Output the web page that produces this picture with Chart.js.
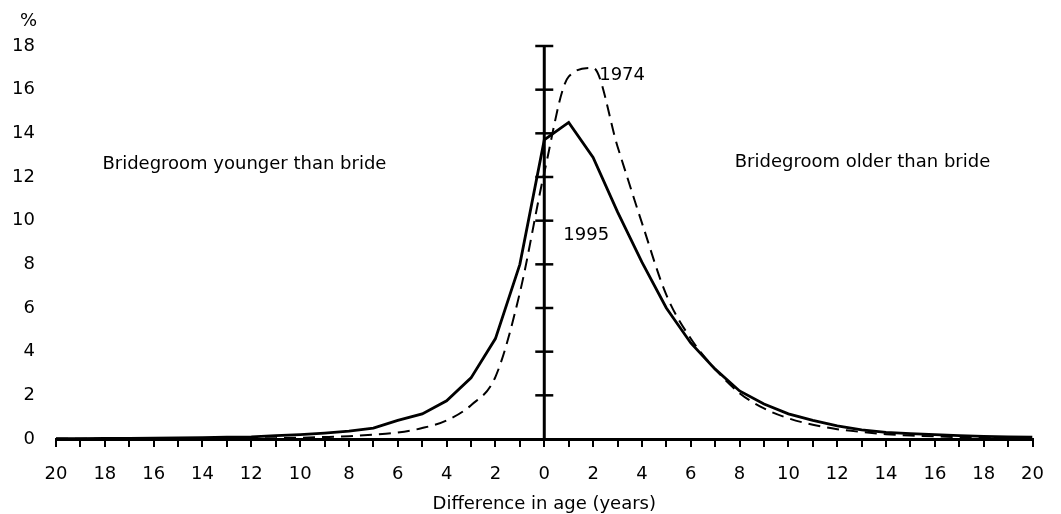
<!DOCTYPE html>
<html><head><meta charset="utf-8">
<script src="https://cdn.jsdelivr.net/npm/chart.js@4/dist/chart.umd.min.js"></script>
<style>html,body{margin:0;padding:0;background:#fff}#wrap{width:1061px;height:514px;position:relative}</style>
</head><body><div id="wrap"><canvas id="c"></canvas></div>
<script>
// Difference in age (years): negative = bridegroom younger than bride
const diffYears = [-20,-19,-18,-17,-16,-15,-14,-13,-12,-11,-10,-9,-8,-7,-6,-5,-4,-3,-2,-1,0,1,2,3,4,5,6,7,8,9,10,11,12,13,14,15,16,17,18,19,20];
const share1995 = [0.02,0.02,0.03,0.03,0.04,0.05,0.06,0.08,0.1,0.15,0.2,0.27,0.36,0.5,0.85,1.15,1.75,2.8,4.6,8.0,13.7,14.5,12.9,10.4,8.1,6.0,4.4,3.2,2.2,1.6,1.15,0.85,0.6,0.42,0.3,0.25,0.2,0.15,0.12,0.1,0.08];
const share1974 = [0.01,0.01,0.01,0.02,0.02,0.02,0.03,0.03,0.03,0.04,0.06,0.09,0.13,0.2,0.3,0.5,0.85,1.55,2.85,6.7,12.2,16.6,17.0,13.4,9.9,6.6,4.6,3.2,2.1,1.4,0.95,0.65,0.45,0.32,0.22,0.16,0.12,0.09,0.07,0.05,0.04];
const yTickValues = [0,2,4,6,8,10,12,14,16,18];
const xLabelYears = [-20,-18,-16,-14,-12,-10,-8,-6,-4,-2,0,2,4,6,8,10,12,14,16,18,20];

const FONT = 'DejaVu Sans';

const annotate = {
  id: 'annotate',
  afterDatasetsDraw(chart) {
    const {ctx, scales: {x, y}} = chart;
    const x0 = x.getPixelForValue(0);
    ctx.save();
    ctx.strokeStyle = '#000';
    ctx.lineCap = 'butt';
    // central vertical axis
    ctx.lineWidth = 3;
    ctx.beginPath();
    ctx.moveTo(x0, y.getPixelForValue(0));
    ctx.lineTo(x0, y.getPixelForValue(18));
    ctx.stroke();
    ctx.lineWidth = 2.5;
    yTickValues.forEach(v => {
      if (v === 0) return;
      const py = y.getPixelForValue(v);
      ctx.beginPath();
      ctx.moveTo(x0 - 9, py);
      ctx.lineTo(x0 + 9, py);
      ctx.stroke();
    });
    // texts
    ctx.fillStyle = '#000';
    ctx.font = '18px "' + FONT + '"';
    ctx.textBaseline = 'middle';
    ctx.textAlign = 'left';
    ctx.fillText('Bridegroom younger than bride', x.getPixelForValue(-18.1), y.getPixelForValue(12.6));
    ctx.fillText('Bridegroom older than bride', x.getPixelForValue(7.8), y.getPixelForValue(12.65));
    ctx.fillText('1974', x.getPixelForValue(2.25), y.getPixelForValue(16.65));
    ctx.fillText('1995', x.getPixelForValue(0.78), y.getPixelForValue(9.35));
    ctx.textAlign = 'right';
    ctx.fillText('%', 37, y.getPixelForValue(18) - 25);
    ctx.restore();
  }
};

new Chart(document.getElementById('c'), {
  type: 'line',
  data: {
    datasets: [
      {
        label: '1974',
        data: diffYears.map((d, i) => ({x: d, y: share1974[i]})),
        borderColor: '#000',
        borderWidth: 2,
        borderDash: [12, 7],
        pointRadius: 0,
        cubicInterpolationMode: 'monotone',
        fill: false
      },
      {
        label: '1995',
        data: diffYears.map((d, i) => ({x: d, y: share1995[i]})),
        borderColor: '#000',
        borderWidth: 2.8,
        pointRadius: 0,
        tension: 0,
        fill: false
      }
    ]
  },
  options: {
    responsive: true,
    maintainAspectRatio: false,
    animation: false,
    layout: {padding: {top: 46, right: 25, left: 0, bottom: 0}},
    plugins: {legend: {display: false}, tooltip: {enabled: false}, title: {display: false}},
    scales: {
      x: {
        type: 'linear',
        min: -20, max: 20,
        afterBuildTicks: s => { s.ticks = diffYears.map(v => ({value: v})); },
        ticks: {
          autoSkip: false, maxRotation: 0, minRotation: 0,
          color: '#000', padding: 17,
          font: {family: FONT, size: 18},
          callback: v => (xLabelYears.includes(v) ? String(Math.abs(v)) : '')
        },
        grid: {drawOnChartArea: false, drawTicks: true, tickLength: 8, color: '#000', lineWidth: 2},
        border: {display: true, color: '#000', width: 3},
        title: {display: true, text: 'Difference in age (years)', color: '#000', font: {family: FONT, size: 18}, padding: {top: 0, bottom: -1}},
        afterFit: s => { s.height = 75; }
      },
      y: {
        type: 'linear',
        min: 0, max: 18,
        afterBuildTicks: s => { s.ticks = yTickValues.map(v => ({value: v})); },
        ticks: {color: '#000', padding: 21, font: {family: FONT, size: 18}},
        grid: {display: false, drawTicks: false},
        border: {display: false},
        afterFit: s => { s.width = 56; }
      }
    }
  },
  plugins: [annotate]
});
</script>
</body></html>
